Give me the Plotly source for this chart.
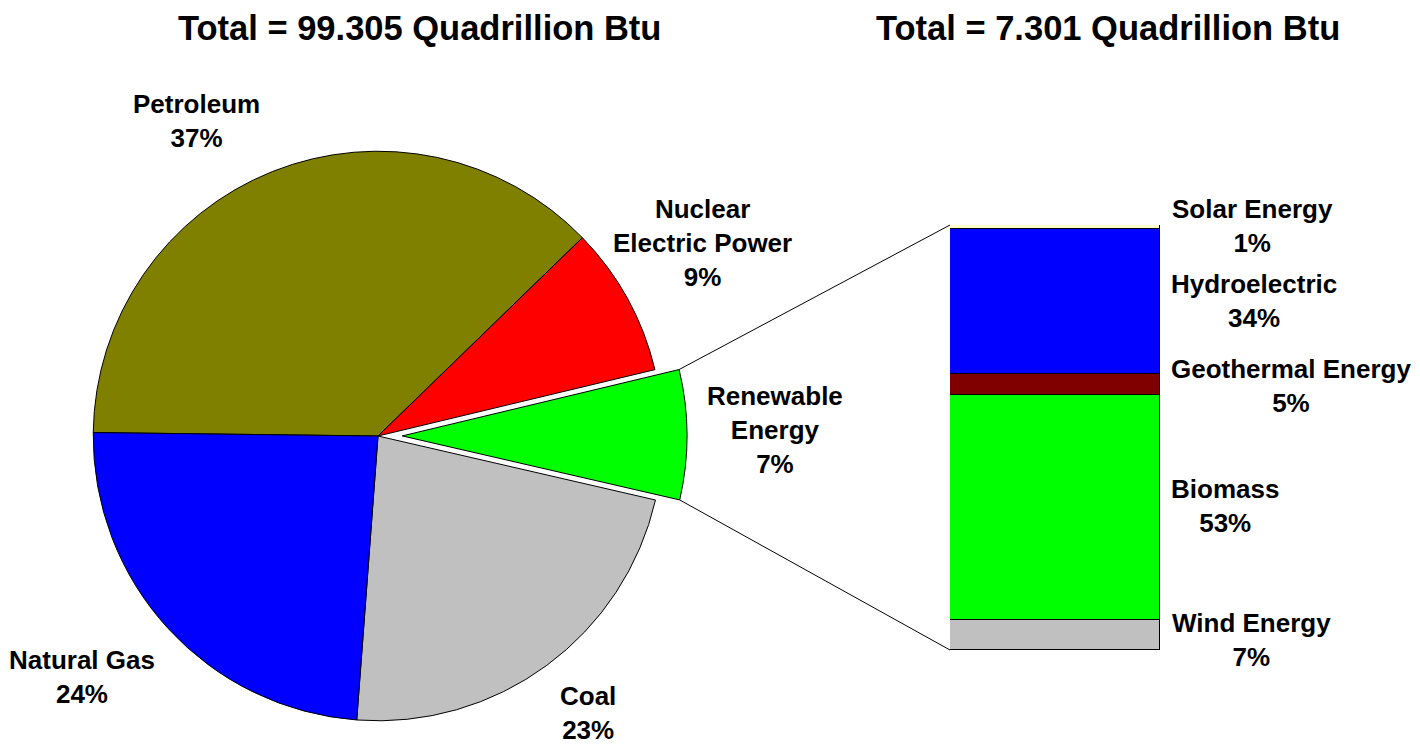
import math
import plotly.graph_objects as go

W, H = 1420, 745

# ---- data -------------------------------------------------------------
titles = ["Total = 99.305 Quadrillion Btu", "Total = 7.301 Quadrillion Btu"]

# Left pie: consumption by energy source (quadrillion Btu)
pie_labels = ["Petroleum", "Nuclear Electric Power", "Renewable Energy", "Coal", "Natural Gas"]
pie_label_lines = ["Petroleum", "Nuclear<br>Electric Power", "Renewable<br>Energy", "Coal", "Natural Gas"]
pie_values = [37.280, 8.455, 7.301, 22.421, 23.835]
pie_pct_text = ["37%", "9%", "7%", "23%", "24%"]
pie_colors = ["#808000", "#FF0000", "#00FF00", "#C0C0C0", "#0000FF"]
pie_pull = [0, 0, 0.085, 0, 0]

# Right stacked bar: renewable energy by source (percent), bottom to top
bar_labels = ["Wind Energy", "Biomass", "Geothermal Energy", "Hydroelectric", "Solar Energy"]
bar_values = [7, 53, 5, 34, 1]
bar_pct_text = ["7%", "53%", "5%", "34%", "1%"]
bar_colors = ["#C0C0C0", "#00FF00", "#800000", "#0000FF", "#FFFFCC"]

# ---- layout parameters -------------------------------------------------
FONT = "Liberation Sans, Arial, sans-serif"
pie_dom_x = [0.0462, 0.4862]
pie_dom_y = [0.0, 0.8295]
pie_rotation = -89.3
bar_dom_x = [950 / W, 1160 / W]
bar_dom_y = [1 - 650 / H, 1 - 225 / H]

# label anchor positions in pixels (center of text block)
pie_label_pos = [(196, 121), (702, 243), (775, 430), (588, 713), (82, 677)]
bar_label_pos = [(1251, 640), (1225, 506), (1291, 386), (1254, 301), (1252, 226)]
title_pos = [(419, 28), (1108, 28)]

fig = go.Figure()

fig.add_trace(go.Pie(
    labels=pie_labels, values=pie_values, sort=False, direction="clockwise",
    rotation=pie_rotation, pull=pie_pull, textinfo="none",
    marker=dict(colors=pie_colors, line=dict(color="black", width=1)),
    domain=dict(x=pie_dom_x, y=pie_dom_y), showlegend=False, hoverinfo="label+percent",
))

for lab, val, col in zip(bar_labels, bar_values, bar_colors):
    fig.add_trace(go.Bar(
        x=[0], y=[val], name=lab, width=[1], marker=dict(color=col, line=dict(color="black", width=1)),
        showlegend=False, xaxis="x", yaxis="y",
    ))

# ---- connector lines computed from pie geometry -------------------------
boxW = W * (pie_dom_x[1] - pie_dom_x[0])
boxH = H * (pie_dom_y[1] - pie_dom_y[0])
r = min(boxW, boxH) / 2 / (1 + max(pie_pull))
cx = W * (pie_dom_x[0] + pie_dom_x[1]) / 2
cy = H * (1 - pie_dom_y[0]) - boxH / 2
total = sum(pie_values)
ri = pie_labels.index("Renewable Energy")
a0 = pie_rotation + sum(pie_values[:ri]) / total * 360
a1 = a0 + pie_values[ri] / total * 360
am = math.radians((a0 + a1) / 2)
ox = pie_pull[ri] * r * math.sin(am)
oy = -pie_pull[ri] * r * math.cos(am)


def corner(a):
    a = math.radians(a)
    return cx + ox + r * math.sin(a), cy + oy - r * math.cos(a)


up = corner(a0)
lo = corner(a1)
shapes = [
    dict(type="line", xref="paper", yref="paper", x0=up[0] / W, y0=1 - up[1] / H,
         x1=bar_dom_x[0], y1=bar_dom_y[1], line=dict(color="black", width=1)),
    dict(type="line", xref="paper", yref="paper", x0=lo[0] / W, y0=1 - lo[1] / H,
         x1=bar_dom_x[0], y1=bar_dom_y[0], line=dict(color="black", width=1)),
]

# ---- text ---------------------------------------------------------------
annotations = []
for t, (px, py) in zip(titles, title_pos):
    annotations.append(dict(text=t, x=px / W, y=1 - py / H, xref="paper", yref="paper",
                            xanchor="center", yanchor="middle", showarrow=False,
                            font=dict(family=FONT, size=34.5, color="black", weight="bold")))
for name, pct, (px, py) in zip(pie_label_lines, pie_pct_text, pie_label_pos):
    annotations.append(dict(text=f"{name}<br>{pct}", x=px / W, y=1 - py / H, xref="paper", yref="paper",
                            xanchor="center", yanchor="middle", showarrow=False, align="center",
                            font=dict(family=FONT, size=26, color="black", weight="bold")))
for name, pct, (px, py) in zip(bar_labels, bar_pct_text, bar_label_pos):
    annotations.append(dict(text=f"{name}<br>{pct}", x=px / W, y=1 - py / H, xref="paper", yref="paper",
                            xanchor="center", yanchor="middle", showarrow=False, align="center",
                            font=dict(family=FONT, size=26, color="black", weight="bold")))

fig.update_layout(
    width=W, height=H, autosize=False,
    margin=dict(l=0, r=0, t=0, b=0, pad=0),
    paper_bgcolor="white", plot_bgcolor="white",
    barmode="stack", bargap=0,
    xaxis=dict(domain=bar_dom_x, range=[-0.5, 0.5], visible=False, fixedrange=True),
    yaxis=dict(domain=bar_dom_y, range=[0, sum(bar_values)], visible=False, fixedrange=True),
    shapes=shapes, annotations=annotations,
)

fig.write_html(
    "out.html",
    config={"displayModeBar": False},
    post_script="document.body.style.margin='0px';document.body.style.overflow='hidden';",
)
